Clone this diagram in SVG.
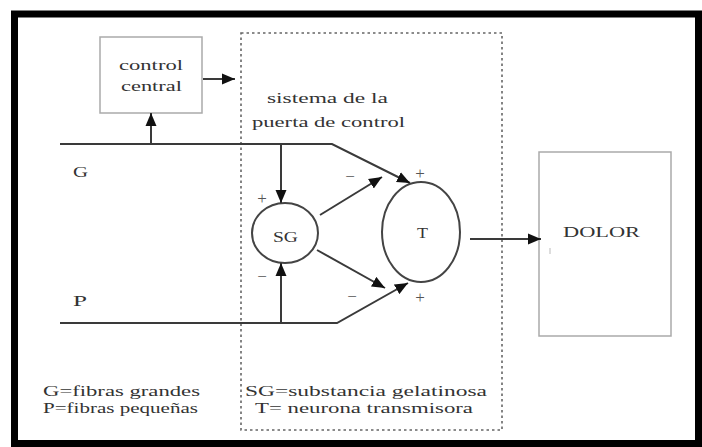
<svg xmlns="http://www.w3.org/2000/svg" width="702" height="447" viewBox="0 0 702 447">
<style>
text{font-family:'Liberation Serif','DejaVu Serif','Times New Roman',serif;fill:#333}
.t{font-size:15px}
.s{font-size:17px;text-anchor:middle;fill:#555}
.ln{stroke:#3a3a3a;stroke-width:2;fill:none}
.box{stroke:#aaa;stroke-width:1.5;fill:none}
.node{stroke:#444;stroke-width:2;fill:#fff}
</style>
<defs>
<marker id="ah" markerUnits="userSpaceOnUse" markerWidth="14" markerHeight="12" refX="13" refY="6" orient="auto">
<path d="M0,0.5 L13,6 L0,11.5 z" fill="#111"/>
</marker>
</defs>
<rect x="0" y="0" width="702" height="447" fill="#fff"/>
<rect x="14.5" y="14" width="684" height="429.5" fill="none" stroke="#000" stroke-width="7"/>

<g id="system-box">
<rect x="241" y="33" width="261" height="397" fill="none" stroke="#666" stroke-width="1.6" stroke-dasharray="2.5 3"/>
<text class="t" x="267" y="103" textLength="121" lengthAdjust="spacingAndGlyphs">sistema de la</text>
<text class="t" x="252" y="127" textLength="153" lengthAdjust="spacingAndGlyphs">puerta de control</text>
</g>

<g id="control-central">
<rect class="box" x="100" y="37" width="102" height="76"/>
<text class="t" x="119" y="70" textLength="64" lengthAdjust="spacingAndGlyphs">control</text>
<text class="t" x="121" y="91" textLength="61" lengthAdjust="spacingAndGlyphs">central</text>
</g>

<g id="SG">
<ellipse class="node" cx="285" cy="233" rx="33" ry="30"/>
<text class="t" x="273" y="242" textLength="25" lengthAdjust="spacingAndGlyphs">SG</text>
</g>

<g id="T">
<ellipse class="node" cx="421" cy="232" rx="39" ry="50"/>
<text class="t" x="417" y="238" textLength="11" lengthAdjust="spacingAndGlyphs">T</text>
</g>

<g id="dolor">
<rect class="box" x="539" y="152" width="132" height="184"/>
<text class="t" x="563" y="237" textLength="77" lengthAdjust="spacingAndGlyphs">DOLOR</text>
<line x1="550" y1="248" x2="550" y2="254" stroke="#bbb" stroke-width="1"/>
</g>

<g id="connectors">
<polyline class="ln" points="60,144 332,144 410,183" marker-end="url(#ah)"/>
<polyline class="ln" points="60,323 337,323 408,283" marker-end="url(#ah)"/>
<line class="ln" x1="151" y1="144" x2="151" y2="113" marker-end="url(#ah)"/>
<line class="ln" x1="203" y1="79" x2="235" y2="79" marker-end="url(#ah)"/>
<line class="ln" x1="281" y1="144" x2="281" y2="203" marker-end="url(#ah)"/>
<line class="ln" x1="281" y1="323" x2="281" y2="263" marker-end="url(#ah)"/>
<line class="ln" x1="320" y1="215" x2="382" y2="177" marker-end="url(#ah)"/>
<line class="ln" x1="317" y1="250" x2="385" y2="288" marker-end="url(#ah)"/>
<line class="ln" x1="470" y1="239" x2="541" y2="239" marker-end="url(#ah)"/>
</g>

<g id="signs">
<text class="s" x="262" y="204">+</text>
<text class="s" x="262" y="282">−</text>
<text class="s" x="350" y="182">−</text>
<text class="s" x="352" y="302">−</text>
<text class="s" x="420" y="179">+</text>
<text class="s" x="420" y="303">+</text>
</g>

<g id="labels">
<text class="t" x="73" y="177" textLength="15" lengthAdjust="spacingAndGlyphs">G</text>
<text class="t" x="73" y="306" textLength="14" lengthAdjust="spacingAndGlyphs">P</text>
<text class="t" x="43" y="396" textLength="157" lengthAdjust="spacingAndGlyphs">G=fibras grandes</text>
<text class="t" x="43" y="413" textLength="155" lengthAdjust="spacingAndGlyphs">P=fibras pequeñas</text>
<text class="t" x="245" y="396" textLength="242" lengthAdjust="spacingAndGlyphs">SG=substancia gelatinosa</text>
<text class="t" x="255" y="413" textLength="218" lengthAdjust="spacingAndGlyphs">T= neurona transmisora</text>
</g>
</svg>
